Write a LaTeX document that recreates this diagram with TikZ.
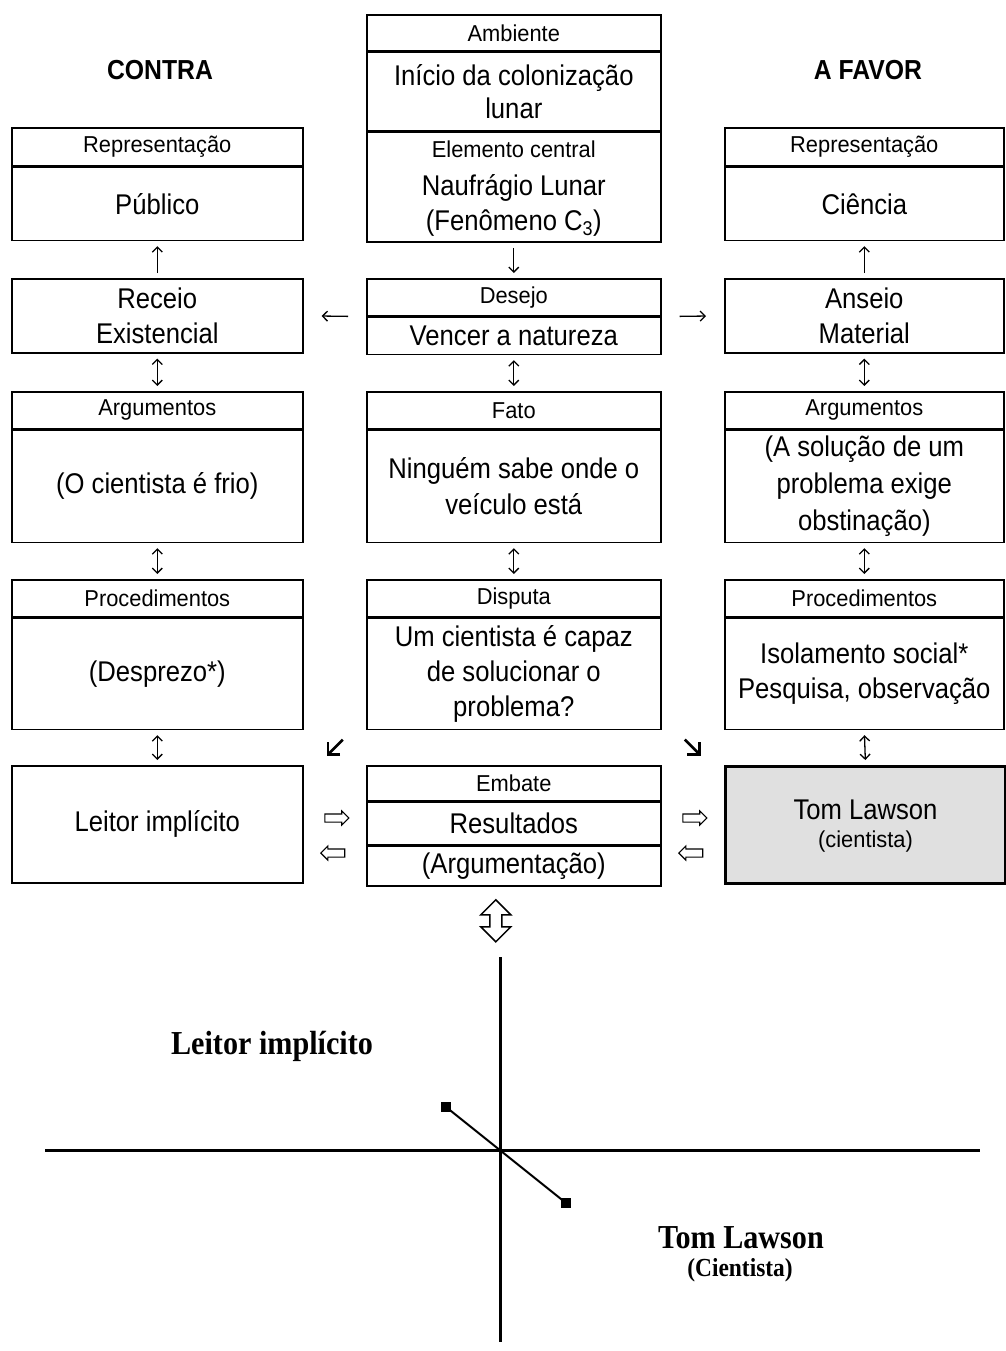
\documentclass[tikz,border=0pt]{standalone}
\usepackage{fontspec}
\setmainfont{Liberation Sans}
\newfontfamily\bodyfont{Liberation Sans}[FakeStretch=0.9]
\newfontfamily\hdrfont{Liberation Sans}[FakeStretch=0.95]
\newfontfamily\timesfont{Liberation Serif}[FakeStretch=0.9]
\usetikzlibrary{arrows.meta,shapes.arrows,calc}

\tikzset{
  cell/.style={draw, line width=1.6pt, inner sep=0pt, anchor=north west, align=center},
  hdr/.style={cell, font=\fontsize{23}{27}\hdrfont},
  bodyc/.style={cell, font=\fontsize{28.5}{35}\bodyfont},
  small/.style={font=\fontsize{23}{27}\hdrfont, inner sep=0pt},
  big/.style={font=\fontsize{28.5}{35}\bodyfont, inner sep=0pt, align=center},
  heading/.style={font=\fontsize{27.5}{32}\bodyfont\bfseries, inner sep=0pt},
  lt/.tip={Straight Barb[length=5pt,width=10pt]},
  conn/.style={line width=1.3pt, shorten <=5pt, shorten >=5pt},
  pointer/.style={conn, -lt},
  both/.style={conn, lt-lt},
  side/.style={line width=1.3pt, -lt, shorten <=18pt, shorten >=18pt},
  diag/.style={line width=2.6pt, -{Straight Barb[length=8.5pt,width=17pt]}},
  hollow/.style={single arrow, draw, line width=1.1pt, inner xsep=0pt, inner ysep=3.5pt,
    single arrow head extend=3pt, minimum height=24pt},
  outline/.style={draw, line width=1.5pt, line join=miter},
  axis/.style={line width=3pt},
  marker/.style={fill=black, minimum size=10pt, inner sep=0pt},
  serifbig/.style={font=\fontsize{33.5}{38}\timesfont\bfseries, inner sep=0pt},
  serifsmall/.style={font=\fontsize{26}{30}\timesfont\bfseries, inner sep=0pt},
}

\begin{document}
\begin{tikzpicture}[x=1pt,y=-1pt]
\useasboundingbox (0,0) rectangle (1005,1351);

% column titles
\node[heading] (contra) at (160,70) {CONTRA};
\node[heading] (afavor) at (868,70) {A FAVOR};

% ---- left column
\node[hdr, minimum width=291pt, minimum height=38pt] (repL) at (11,127) {Representação};
\node[bodyc, minimum width=291pt, minimum height=73pt] (pub) at (repL.south west) {Público};
\node[bodyc, minimum width=291pt, minimum height=74pt] (receio) at (11,278) {Receio\\Existencial};
\node[hdr, minimum width=291pt, minimum height=37pt] (argL) at (11,391) {Argumentos};
\node[bodyc, minimum width=291pt, minimum height=112pt] (argLb) at (argL.south west) {(O cientista é frio)};
\node[hdr, minimum width=291pt, minimum height=37pt] (procL) at (11,579) {Procedimentos};
\node[bodyc, minimum width=291pt, minimum height=111pt] (procLb) at (procL.south west) {(Desprezo*)};
\node[bodyc, minimum width=291pt, minimum height=117pt] (leitor) at (11,765) {Leitor implícito};

% ---- centre column
\node[hdr, minimum width=294pt, minimum height=36pt] (amb) at (366,14) {Ambiente};
\node[bodyc, minimum width=294pt, minimum height=78pt, font=\fontsize{28.5}{33}\bodyfont] (inicio) at (amb.south west) {Início da colonização\\lunar};
\node[cell, minimum width=294pt, minimum height=110pt] (elem) at (inicio.south west) {};
\node[small] (elemT) at ($(elem.north)+(0,18)$) {Elemento central};
\node[big] (elemN) at ($(elem.north)+(0,57)$) {Naufrágio Lunar};
\node[big] (elemF) at ($(elem.north)+(0,92)$) {(Fenômeno C\textsubscript{3})};
\node[hdr, minimum width=294pt, minimum height=37pt] (desejo) at (366,278) {Desejo};
\node[bodyc, minimum width=294pt, minimum height=37pt] (vencer) at (desejo.south west) {Vencer a natureza};
\node[hdr, minimum width=294pt, minimum height=37pt] (fato) at (366,391) {Fato};
\node[bodyc, minimum width=294pt, minimum height=112pt, font=\fontsize{28.5}{36}\bodyfont] (fatob) at (fato.south west) {Ninguém sabe onde o\\veículo está};
\node[hdr, minimum width=294pt, minimum height=37pt] (disputa) at (366,579) {Disputa};
\node[bodyc, minimum width=294pt, minimum height=111pt] (disputab) at (disputa.south west) {Um cientista é capaz\\de solucionar o\\problema?};
\node[hdr, minimum width=294pt, minimum height=35pt] (embate) at (366,765) {Embate};
\node[bodyc, minimum width=294pt, minimum height=42pt] (result) at (embate.south west) {Resultados};
\node[bodyc, minimum width=294pt, minimum height=40pt] (argum) at (result.south west) {(Argumentação)};

% ---- right column
\node[hdr, minimum width=279pt, minimum height=38pt] (repR) at (724,127) {Representação};
\node[bodyc, minimum width=279pt, minimum height=73pt] (cien) at (repR.south west) {Ciência};
\node[bodyc, minimum width=279pt, minimum height=74pt] (anseio) at (724,278) {Anseio\\Material};
\node[hdr, minimum width=279pt, minimum height=37pt] (argR) at (724,391) {Argumentos};
\node[bodyc, minimum width=279pt, minimum height=112pt, font=\fontsize{28.5}{37}\bodyfont] (argRb) at (argR.south west) {(A solução de um\\problema exige\\obstinação)};
\node[hdr, minimum width=279pt, minimum height=37pt] (procR) at (724,579) {Procedimentos};
\node[bodyc, minimum width=279pt, minimum height=111pt] (procRb) at (procR.south west) {Isolamento social*\\Pesquisa, observação};
\node[cell, minimum width=280pt, minimum height=117pt, line width=3pt, fill=black!12] (tom) at (724,765) {};
\node[big] (tomN) at ($(tom.north)+(0,45)$) {Tom Lawson};
\node[small] (tomC) at ($(tom.north)+(0,77)$) {(cientista)};

% ---- vertical connectors
\draw[pointer] (receio.north) -- (pub.south);
\draw[pointer] (elem.south) -- (desejo.north);
\draw[pointer] (anseio.north) -- (cien.south);
\draw[both] (receio.south) -- (argL.north);
\draw[both] (vencer.south) -- (fato.north);
\draw[both] (anseio.south) -- (argR.north);
\draw[both] (argLb.south) -- (procL.north);
\draw[both] (fatob.south) -- (disputa.north);
\draw[both] (argRb.south) -- (procR.north);
\draw[both] (procLb.south) -- (leitor.north);
\draw[both] (procRb.south) -- (tom.north);

% ---- horizontal connectors from the wish
\draw[side] (vencer.north west) -- (receio.east);
\draw[side] (vencer.north east) -- (anseio.west);

% ---- diagonal pointers from the dispute
\coordinate (dl) at ($(disputab.south west)!0.5!(leitor.north east)$);
\coordinate (dr) at ($(disputab.south east)!0.5!(tom.north west)$);
\draw[diag] ($(dl)+(8,-8)$) -- ($(dl)+(-8,8)$);
\draw[diag] ($(dr)+(-8,-8)$) -- ($(dr)+(8,8)$);

% ---- hollow exchange arrows
\coordinate (ml) at ($(leitor.east)!0.5!(embate.west)$);
\coordinate (mr) at ($(embate.east)!0.5!(tom.west)$);
\node[hollow] (hl1) at (ml |- 0,818) {};
\node[hollow, shape border rotate=180] (hl2) at (ml |- 0,853) {};
\node[hollow] (hr1) at (mr |- 0,818) {};
\node[hollow, shape border rotate=180] (hr2) at (mr |- 0,853) {};

% hollow up-down arrow below the clash
\coordinate (ud) at ($(argum.south)+(-18,34)$);
\draw[outline] ($(ud)+(0,-21)$) -- ++(15,15) -- ++(-9,0) -- ++(0,12) -- ++(9,0)
  -- ($(ud)+(0,21)$) -- ++(-15,-15) -- ++(9,0) -- ++(0,-12) -- ++(-9,0) -- cycle;

% ---- axes
\coordinate (vtop) at (500,957);
\coordinate (vbot) at (500,1342);
\coordinate (hleft) at (45,1150);
\coordinate (hright) at (980,1150);
\draw[axis] (vtop) -- (vbot);
\draw[axis] (hleft) -- (hright);
\node[marker] (mA) at (446,1107) {};
\node[marker] (mB) at (566,1203) {};
\draw[line width=2pt] (mA.center) -- (mB.center);

\node[serifbig] (lbl1) at (272,1046) {Leitor implícito};
\node[serifbig] (lbl2) at (741,1238) {Tom Lawson};
\node[serifsmall] (lbl3) at (740,1270) {(Cientista)};
\end{tikzpicture}
\end{document}
